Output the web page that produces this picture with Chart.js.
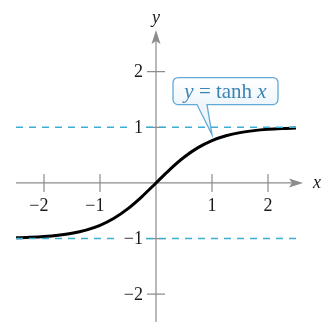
<!DOCTYPE html>
<html>
<head>
<meta charset="utf-8">
<script src="https://cdn.jsdelivr.net/npm/chart.js@4.4.1/dist/chart.umd.min.js"></script>
<style>
  html, body { margin: 0; padding: 0; background: #fff; }
  #wrap { width: 323px; height: 325px; }
</style>
</head>
<body>
<div id="wrap"><canvas id="myChart"></canvas></div>
<script>
// y = tanh x, sampled every 0.25
const xValues = [-2.5, -2.25, -2, -1.75, -1.5, -1.25, -1, -0.75, -0.5, -0.25, 0,
                 0.25, 0.5, 0.75, 1, 1.25, 1.5, 1.75, 2, 2.25, 2.5];
const yValues = [-0.987, -0.978, -0.964, -0.941, -0.905, -0.848, -0.762, -0.635, -0.462, -0.245, 0,
                 0.245, 0.462, 0.635, 0.762, 0.848, 0.905, 0.941, 0.964, 0.978, 0.987];

// horizontal asymptotes y = 1 and y = -1
const asymptotes = [1, -1];
const asymptoteSpan = [-2.5, 2.52];

const xTicks = [-2, -1, 1, 2];
const yTicks = [-2, -1, 1, 2];
const tickLabels = { "-2": "\u22122", "-1": "\u22121", "1": "1", "2": "2" };

const axisColor = "#8c8c8c";
const dashColor = "#3eaed0";
const serif = "'Liberation Serif', 'DejaVu Serif', serif";

const datasets = asymptotes.map((v) => ({
  data: asymptoteSpan.map((x) => ({ x, y: v })),
  borderColor: dashColor,
  borderWidth: 1.5,
  borderDash: [7, 6],
  pointRadius: 0,
  showLine: true,
}));

datasets.push({
  data: xValues.map((x, i) => ({ x, y: yValues[i] })),
  borderColor: "#000",
  borderWidth: 3,
  pointRadius: 0,
  showLine: true,
  cubicInterpolationMode: "monotone",
});

const axesPlugin = {
  id: "axes",
  beforeDatasetsDraw(chart) {
    const { ctx, chartArea: a, scales: { x, y } } = chart;
    const x0 = x.getPixelForValue(0);
    const y0 = y.getPixelForValue(0);
    ctx.save();
    ctx.strokeStyle = axisColor;
    ctx.fillStyle = axisColor;
    ctx.lineWidth = 1.2;

    ctx.beginPath();
    ctx.moveTo(a.left, y0);
    ctx.lineTo(a.right - 10, y0);
    ctx.moveTo(x0, a.bottom);
    ctx.lineTo(x0, a.top + 10);
    xTicks.forEach((t) => {
      const px = x.getPixelForValue(t);
      ctx.moveTo(px, y0 - 9);
      ctx.lineTo(px, y0 + 9);
    });
    yTicks.forEach((t) => {
      const py = y.getPixelForValue(t);
      ctx.moveTo(x0 - 9, py);
      ctx.lineTo(x0 + 9, py);
    });
    ctx.stroke();

    // arrow heads
    ctx.beginPath();
    ctx.moveTo(a.right, y0);
    ctx.lineTo(a.right - 14, y0 - 4.5);
    ctx.lineTo(a.right - 11, y0);
    ctx.lineTo(a.right - 14, y0 + 4.5);
    ctx.closePath();
    ctx.moveTo(x0, a.top);
    ctx.lineTo(x0 - 4.5, a.top + 14);
    ctx.lineTo(x0, a.top + 11);
    ctx.lineTo(x0 + 4.5, a.top + 14);
    ctx.closePath();
    ctx.fill();
    ctx.restore();
  },
  afterDatasetsDraw(chart) {
    const { ctx, chartArea: a, scales: { x, y } } = chart;
    const x0 = x.getPixelForValue(0);
    const y0 = y.getPixelForValue(0);
    ctx.save();
    ctx.font = "18px " + serif;
    ctx.fillStyle = "#1a1a1a";
    ctx.textBaseline = "middle";

    const digitW = ctx.measureText("2").width;
    ctx.textAlign = "right";
    xTicks.forEach((t) => {
      const px = x.getPixelForValue(t);
      ctx.fillText(tickLabels[t], px + digitW / 2, y0 + 23);
    });
    // y labels sit on the dashed lines, so clear a gap behind them
    yTicks.forEach((t) => {
      const py = y.getPixelForValue(t);
      const label = tickLabels[t];
      const w = ctx.measureText(label).width;
      ctx.fillStyle = "#fff";
      ctx.fillRect(143 - w - 6, py - 6, w + 9, 12);
      ctx.fillStyle = "#1a1a1a";
      ctx.fillText(label, 143, py + 1);
    });

    // axis names
    ctx.font = "italic 18px " + serif;
    ctx.textAlign = "center";
    ctx.fillText("y", x0, a.top - 12);
    ctx.textAlign = "left";
    ctx.fillText("x", a.right + 10, y0);

    // callout pointing at the curve near x = 1
    const tipX = x.getPixelForValue(1);
    const tipY = y.getPixelForValue(yValues[xValues.indexOf(1)]) - 6;
    const bx = tipX - 39, by = tipY - 57, bw = 105, bh = 27, r = 5;
    ctx.beginPath();
    ctx.moveTo(bx + r, by);
    ctx.lineTo(bx + bw - r, by);
    ctx.arcTo(bx + bw, by, bx + bw, by + r, r);
    ctx.lineTo(bx + bw, by + bh - r);
    ctx.arcTo(bx + bw, by + bh, bx + bw - r, by + bh, r);
    ctx.lineTo(tipX - 5, by + bh);
    ctx.lineTo(tipX, tipY);
    ctx.lineTo(tipX - 15, by + bh);
    ctx.lineTo(bx + r, by + bh);
    ctx.arcTo(bx, by + bh, bx, by + bh - r, r);
    ctx.lineTo(bx, by + r);
    ctx.arcTo(bx, by, bx + r, by, r);
    ctx.closePath();
    const grad = ctx.createLinearGradient(0, by, 0, by + bh);
    grad.addColorStop(0, "#ffffff");
    grad.addColorStop(1, "#eef6fb");
    ctx.fillStyle = grad;
    ctx.fill();
    ctx.strokeStyle = "#62a9d6";
    ctx.lineWidth = 1.3;
    ctx.stroke();

    const parts = [
      ["italic 21px " + serif, "y"],
      ["21px " + serif, " = tanh "],
      ["italic 21px " + serif, "x"],
    ];
    let total = 0;
    parts.forEach(([f, s]) => { ctx.font = f; total += ctx.measureText(s).width; });
    let cx = bx + bw / 2 - total / 2;
    ctx.fillStyle = "#3a84b6";
    ctx.textAlign = "left";
    parts.forEach(([f, s]) => {
      ctx.font = f;
      ctx.fillText(s, cx, by + bh / 2 + 1);
      cx += ctx.measureText(s).width;
    });
    ctx.restore();
  },
};

new Chart(document.getElementById("myChart"), {
  type: "scatter",
  data: { datasets },
  options: {
    responsive: true,
    maintainAspectRatio: false,
    animation: false,
    layout: { padding: { left: 16, right: 20, top: 30, bottom: 3 } },
    plugins: { legend: { display: false }, tooltip: { enabled: false } },
    scales: {
      x: { type: "linear", min: -2.5, max: 2.625, display: false },
      y: { type: "linear", min: -2.5, max: 2.75, display: false },
    },
  },
  plugins: [axesPlugin],
});
</script>
</body>
</html>
